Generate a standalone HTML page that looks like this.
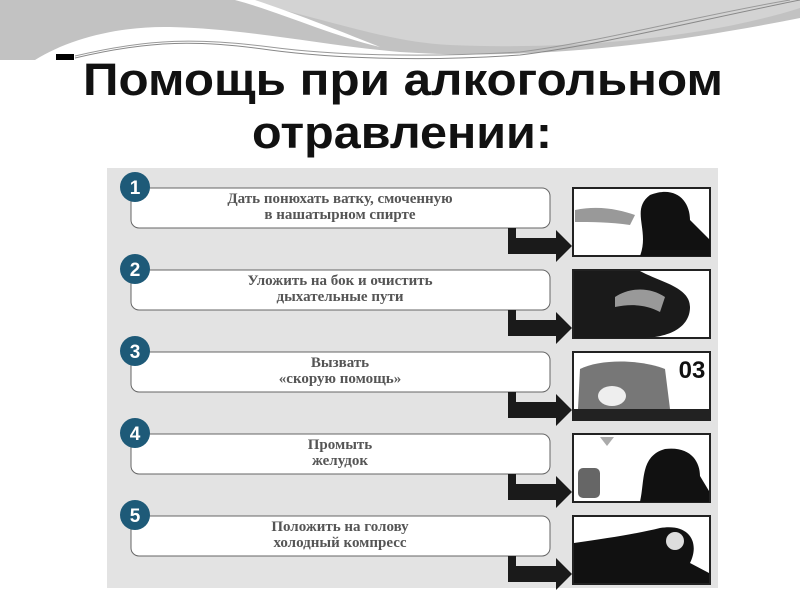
<!DOCTYPE html>
<html><head><meta charset="utf-8"><style>
body{margin:0;width:800px;height:600px;overflow:hidden;background:#fff;font-family:"Liberation Sans",sans-serif}
</style></head><body>
<svg width="800" height="600" xmlns="http://www.w3.org/2000/svg">
<defs>
<g id="arr"><path d="M0,0 h8 v10 h40 v-8 l16,16 l-16,16 v-8 h-48 z" fill="#1a1a1a"/></g>
</defs>
<!-- top waves -->
<rect x="0" y="0" width="800" height="60" fill="#c2c2c2"/>
<path d="M235,0 H800 V8 C700,40 560,50 450,45 C380,42 300,10 235,0 Z" fill="#d3d3d3"/>
<path d="M235,0 H255 C300,15 350,35 380,47 C330,35 280,12 235,0 Z" fill="#fff"/>
<path d="M35,60 C70,38 120,26 170,27 C250,29 320,45 400,52 C520,60 650,48 800,18 V60 Z" fill="#fff"/>
<path d="M75,58 C150,40 200,40 270,50 C330,58 420,62 520,55 C600,45 700,20 800,0" stroke="#888" stroke-width="1" fill="none"/>
<path d="M75,56 C150,38 200,38 270,47 C330,55 420,58 520,52 C600,42 700,15 790,0" stroke="#999" stroke-width="1" fill="none"/>
<rect x="56" y="54" width="18" height="6" fill="#000"/>
<!-- title -->
<text x="83" y="95" textLength="640" lengthAdjust="spacingAndGlyphs" font-size="45" font-weight="bold" fill="#111">Помощь при алкогольном</text>
<text x="252" y="148" textLength="300" lengthAdjust="spacingAndGlyphs" font-size="45" font-weight="bold" fill="#111">отравлении:</text>
<!-- panel -->
<rect x="107" y="168" width="611" height="420" fill="#e3e3e3"/>
<g font-family="Liberation Serif,serif" font-size="15" font-weight="bold" fill="#555" text-anchor="middle">
<g transform="translate(0,0)">
<rect x="131" y="188" width="419" height="40" rx="8" fill="#fff" stroke="#666"/>
<circle cx="135" cy="187" r="15" fill="#1e5a78"/><text x="135" y="194" fill="#fff" font-family="Liberation Sans" font-weight="bold" font-size="19">1</text>
<text x="340" y="203">Дать понюхать ватку, смоченную</text><text x="340" y="219">в нашатырном спирте</text>
<use href="#arr" x="508" y="228"/>
<rect x="573" y="188" width="137" height="68" fill="#fff" stroke="#222" stroke-width="2"/>
<path d="M640,256 C650,230 630,210 650,195 C675,185 690,200 690,220 L710,240 V256 Z" fill="#111"/>
<path d="M575,210 C600,205 620,210 635,215 L630,225 C610,222 590,222 575,222 Z" fill="#999"/>
</g>
<g transform="translate(0,82)">
<rect x="131" y="188" width="419" height="40" rx="8" fill="#fff" stroke="#666"/>
<circle cx="135" cy="187" r="15" fill="#1e5a78"/><text x="135" y="194" fill="#fff" font-family="Liberation Sans" font-weight="bold" font-size="19">2</text>
<text x="340" y="203">Уложить на бок и очистить</text><text x="340" y="219">дыхательные пути</text>
<use href="#arr" x="508" y="228"/>
<rect x="573" y="188" width="137" height="68" fill="#fff" stroke="#222" stroke-width="2"/>
<path d="M574,189 H640 C660,200 690,205 690,225 C690,245 670,256 640,256 H574 Z" fill="#1a1a1a"/>
<path d="M615,215 C630,205 650,205 665,215 L660,230 C645,222 630,222 615,225 Z" fill="#999"/>
</g>
<g transform="translate(0,164)">
<rect x="131" y="188" width="419" height="40" rx="8" fill="#fff" stroke="#666"/>
<circle cx="135" cy="187" r="15" fill="#1e5a78"/><text x="135" y="194" fill="#fff" font-family="Liberation Sans" font-weight="bold" font-size="19">3</text>
<text x="340" y="203">Вызвать</text><text x="340" y="219">«скорую помощь»</text>
<use href="#arr" x="508" y="228"/>
<rect x="573" y="188" width="137" height="68" fill="#fff" stroke="#222" stroke-width="2"/>
<path d="M580,205 C600,195 640,195 665,205 L670,245 H578 Z" fill="#777"/>
<ellipse cx="612" cy="232" rx="14" ry="10" fill="#eee"/>
<rect x="574" y="245" width="135" height="10" fill="#222"/>
<text x="692" y="214" font-family="Liberation Sans" font-size="24" fill="#111">03</text>
</g>
<g transform="translate(0,246)">
<rect x="131" y="188" width="419" height="40" rx="8" fill="#fff" stroke="#666"/>
<circle cx="135" cy="187" r="15" fill="#1e5a78"/><text x="135" y="194" fill="#fff" font-family="Liberation Sans" font-weight="bold" font-size="19">4</text>
<text x="340" y="203">Промыть</text><text x="340" y="219">желудок</text>
<use href="#arr" x="508" y="228"/>
<rect x="573" y="188" width="137" height="68" fill="#fff" stroke="#222" stroke-width="2"/>
<path d="M640,256 C645,235 640,210 665,203 C690,200 700,215 700,230 L709,245 V256 Z" fill="#111"/>
<path d="M600,191 L614,191 L607,200 Z" fill="#aaa"/>
<rect x="578" y="222" width="22" height="30" rx="5" fill="#666"/>
</g>
<g transform="translate(0,328)">
<rect x="131" y="188" width="419" height="40" rx="8" fill="#fff" stroke="#666"/>
<circle cx="135" cy="187" r="15" fill="#1e5a78"/><text x="135" y="194" fill="#fff" font-family="Liberation Sans" font-weight="bold" font-size="19">5</text>
<text x="340" y="203">Положить на голову</text><text x="340" y="219">холодный компресс</text>
<use href="#arr" x="508" y="228"/>
<rect x="573" y="188" width="137" height="68" fill="#fff" stroke="#222" stroke-width="2"/>
<path d="M574,215 C610,210 640,205 660,200 C690,195 700,215 690,235 L709,245 V255 H574 Z" fill="#111"/>
<circle cx="675" cy="213" r="9" fill="#ddd"/>
</g>
</g>
</svg>
</body></html>
